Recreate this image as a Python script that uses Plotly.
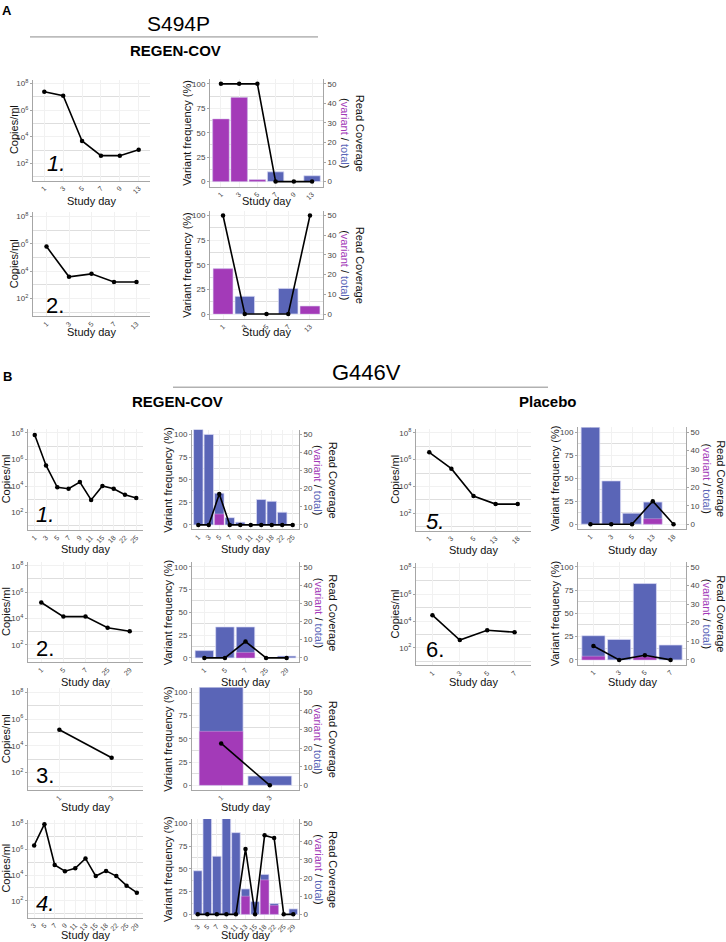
import plotly.graph_objects as go

W, H = 726, 942
PURPLE = "#A33AB8"
BLUE = "#5A65B7"
FONT = "Liberation Sans, Arial, sans-serif"

# ---------------- data ----------------
# S494P, REGEN-COV, patient 1
A1_days = ["1", "3", "5", "7", "9", "13"]
A1_copies = [2.4e7, 1.2e7, 4.8e3, 3.8e2, 3.8e2, 1.07e3]
A1_freq = [100, 100, 100, 0, 0, 0]
A1_total = [32, 43, 1, 5, 0, 3]
A1_variant = [32, 43, 1, 0, 0, 0]

# S494P, REGEN-COV, patient 2
A2_days = ["1", "3", "5", "7", "13"]
A2_copies = [6.3e5, 3.8e3, 6.3e3, 1.6e3, 1.6e3]
A2_freq = [100, 0, 0, 0, 100]
A2_total = [23, 9, 0, 13, 4]
A2_variant = [23, 0, 0, 0, 4]

# G446V, REGEN-COV, patient 1
B1_days = ["1", "3", "5", "7", "9", "11", "15", "18", "22", "25"]
B1_copies = [6.8e7, 3.5e5, 7.9e3, 6.3e3, 2.0e4, 8.9e2, 1.0e4, 6.3e3, 2.2e3, 1.26e3]
B1_freq = [0, 0, 34, 0, 0, 0, 0, 0, 0, 0]
B1_total = [55, 50, 17.5, 4, 1.5, 0, 14, 13, 7, 0]
B1_variant = [0, 0, 6, 0, 0, 0, 0, 0, 0, 0]

# G446V, REGEN-COV, patient 2
B2_days = ["1", "5", "7", "25", "29"]
B2_copies = [1.66e5, 1.4e4, 1.4e4, 2.0e3, 1.1e3]
B2_freq = [0, 0, 18, 0, 0]
B2_total = [4, 17, 17, 0, 1]
B2_variant = [0, 0, 3, 0, 0]

# G446V, REGEN-COV, patient 3
B3_days = ["1", "3"]
B3_copies = [1.6e5, 1.3e3]
B3_freq = [45, 0]
B3_total = [64, 5]
B3_variant = [29, 0]

# G446V, REGEN-COV, patient 4
B4_days = ["3", "5", "7", "9", "11", "13", "15", "18", "22", "25", "29"]
B4_copies = [2.0e6, 8.9e7, 6.0e4, 2.0e4, 3.3e4, 1.95e5, 8.3e3, 2.1e4, 8.3e3, 1.5e3, 4.3e2]
B4_freq = [0, 0, 0, 0, 0, 72, 0, 87, 84, 0, 0]
B4_total = [24, 60, 32, 60, 45, 14, 7, 22, 6, 0, 3]
B4_variant = [0, 0, 0, 0, 0, 10, 0, 19, 5, 0, 0]

# G446V, Placebo, patient 5
P5_days = ["1", "3", "5", "13", "18"]
P5_copies = [3.5e6, 2.1e5, 1.9e3, 4.8e2, 4.8e2]
P5_freq = [0, 0, 0, 25, 0]
P5_total = [60, 23.5, 6, 12, 0]
P5_variant = [0, 0, 0, 3, 0]

# G446V, Placebo, patient 6
P6_days = ["1", "3", "5", "7"]
P6_copies = [2.8e4, 3.9e2, 2.1e3, 1.5e3]
P6_freq = [15, 0, 5, 0]
P6_total = [13, 11, 41, 8]
P6_variant = [2, 0, 1.7, 0]

copy_tickvals = [1e2, 1e4, 1e6, 1e8]
copy_ticktext = ["10<sup>2</sup>", "10<sup>4</sup>", "10<sup>6</sup>", "10<sup>8</sup>"]
freq_ticks = [0, 25, 50, 75, 100]
read_ticks = [0, 10, 20, 30, 40, 50]

# ---------------- layout table (pixel positions) ----------------
panels = [
    dict(days=A1_days, copies=A1_copies, freq=A1_freq, total=A1_total, variant=A1_variant,
         cx=(33, 150), cy=(81.7, 161.7), bx=(210, 323), by=(82, 180), ty=199,
         label="1.", lab=(56, 162), ital=True, ytc=14, ytb=187, ytr=353),
    dict(days=A2_days, copies=A2_copies, freq=A2_freq, total=A2_total, variant=A2_variant,
         cx=(33, 150), cy=(215, 297), bx=(210, 323), by=(214, 312.7), ty=331,
         label="2.", lab=(55, 304), ital=False, ytc=14, ytb=187, ytr=353),
    dict(days=B1_days, copies=B1_copies, freq=B1_freq, total=B1_total, variant=B1_variant,
         cx=(28, 143), cy=(431.7, 511.7), bx=(192, 299), by=(433.3, 524), ty=548,
         label="1.", lab=(45, 514), ital=True, ytc=6, ytb=168, ytr=326),
    dict(days=B2_days, copies=B2_copies, freq=B2_freq, total=B2_total, variant=B2_variant,
         cx=(28, 143), cy=(565, 644.3), bx=(192, 299), by=(566, 657.3), ty=681,
         label="2.", lab=(45, 648), ital=False, ytc=6, ytb=168, ytr=326),
    dict(days=B3_days, copies=B3_copies, freq=B3_freq, total=B3_total, variant=B3_variant,
         cx=(28, 143), cy=(691.7, 772.3), bx=(192, 299), by=(691.7, 785), ty=807,
         label="3.", lab=(45, 775), ital=False, ytc=6, ytb=168, ytr=326),
    dict(days=B4_days, copies=B4_copies, freq=B4_freq, total=B4_total, variant=B4_variant,
         cx=(28, 143), cy=(823.3, 900.7), bx=(192, 299), by=(823.3, 914.3), ty=935,
         label="4.", lab=(45, 903), ital=True, ytc=6, ytb=168, ytr=326),
    dict(days=P5_days, copies=P5_copies, freq=P5_freq, total=P5_total, variant=P5_variant,
         cx=(416, 531), cy=(431.7, 512.3), bx=(578, 686), by=(431, 523.3), ty=549,
         label="5.", lab=(435, 521), ital=True, ytc=395, ytb=555, ytr=714),
    dict(days=P6_days, copies=P6_copies, freq=P6_freq, total=P6_total, variant=P6_variant,
         cx=(416, 531), cy=(566.7, 647.3), bx=(578, 686), by=(566, 659.3), ty=681,
         label="6.", lab=(435, 649), ital=False, ytc=395, ytb=555, ytr=714),
]


def px_x(x):
    return x / W


def px_y(y):
    return 1 - y / H


def nm(kind, n):
    return kind if n == 1 else f"{kind}{n}"


def lk(kind, n):
    return f"{kind}axis" if n == 1 else f"{kind}axis{n}"


AXC = "#a6a6a6"
GRID_MAJ = "#f1f1f1"
GRID_MIN = "#dedede"
TICKF = dict(family=FONT, size=8, color="#444444")
XTICKF = dict(family=FONT, size=7, color="#444444")

fig = go.Figure()
layout = {}
annotations = []

for i, p in enumerate(panels):
    n = len(p["days"])
    xc, xb = 2 * i + 1, 2 * i + 2
    yc, yr, yf = 3 * i + 1, 3 * i + 2, 3 * i + 3

    # copies panel box
    y8, y2 = p["cy"]
    d = (y2 - y8) / 6
    ctop, cbot = y8 - 0.3 * d, y2 + 1.3 * d
    # bar panel box
    y100, y0 = p["by"]
    u = (y0 - y100) / 100
    btop, bbot = y100 - 5 * u, y0 + 5 * u

    xcommon = dict(type="category", range=[-0.6, n - 0.4], tickangle=-45, tickfont=XTICKF,
                   showgrid=True, gridcolor=GRID_MAJ, showline=True, linecolor=AXC,
                   ticks="", zeroline=False, fixedrange=True)

    layout[lk("x", xc)] = dict(xcommon, domain=[px_x(p["cx"][0]), px_x(p["cx"][1])], anchor=nm("y", yc))
    layout[lk("y", yc)] = dict(type="log", range=[0.7, 8.3], domain=[px_y(cbot), px_y(ctop)],
                               anchor=nm("x", xc), tickvals=copy_tickvals, ticktext=copy_ticktext,
                               tickfont=TICKF, showgrid=True, gridcolor=GRID_MAJ,
                               minor=dict(tickvals=[1e1, 1e3, 1e5, 1e7], showgrid=True,
                                          gridcolor=GRID_MIN, ticks=""),
                               showline=True, linecolor=AXC, ticks="outside", ticklen=2,
                               tickcolor=AXC, zeroline=False, fixedrange=True)

    layout[lk("x", xb)] = dict(xcommon, domain=[px_x(p["bx"][0]), px_x(p["bx"][1])], anchor=nm("y", yr))
    layout[lk("y", yr)] = dict(range=[-2.5, 52.5], domain=[px_y(bbot), px_y(btop)], anchor=nm("x", xb),
                               side="right", tickvals=read_ticks, tickfont=TICKF, showgrid=False,
                               showline=True, linecolor=AXC, ticks="outside", ticklen=2,
                               tickcolor=AXC, zeroline=False, fixedrange=True)
    layout[lk("y", yf)] = dict(range=[-5, 105], overlaying=nm("y", yr), anchor=nm("x", xb), side="left",
                               tickvals=freq_ticks, tickfont=TICKF, showgrid=True, gridcolor=GRID_MAJ,
                               minor=dict(tickvals=[12.5, 37.5, 62.5, 87.5], showgrid=True,
                                          gridcolor=GRID_MIN, ticks=""),
                               showline=True, linecolor=AXC, ticks="outside", ticklen=2,
                               tickcolor=AXC, zeroline=False, fixedrange=True)

    # traces
    fig.add_trace(go.Scatter(x=p["days"], y=p["copies"], mode="lines+markers",
                             line=dict(color="black", width=1.6), marker=dict(color="black", size=4.5),
                             xaxis=nm("x", xc), yaxis=nm("y", yc), showlegend=False))
    tot = [v if v else None for v in p["total"]]
    var = [v if v else None for v in p["variant"]]
    fig.add_trace(go.Bar(x=p["days"], y=tot, width=0.9, marker=dict(color=BLUE,
                         line=dict(color="rgba(220,220,245,0.9)", width=0.8)),
                         xaxis=nm("x", xb), yaxis=nm("y", yr), showlegend=False))
    fig.add_trace(go.Bar(x=p["days"], y=var, width=0.9, marker=dict(color=PURPLE,
                         line=dict(color="rgba(235,210,240,0.6)", width=0.6)),
                         xaxis=nm("x", xb), yaxis=nm("y", yr), showlegend=False))
    fig.add_trace(go.Scatter(x=p["days"], y=p["freq"], mode="lines+markers",
                             line=dict(color="black", width=1.6), marker=dict(color="black", size=4.5),
                             xaxis=nm("x", xb), yaxis=nm("y", yf), showlegend=False, cliponaxis=False))

    # text
    tf = dict(family=FONT, size=11, color="#111111")
    cmid = (ctop + cbot) / 2
    bmid = (btop + bbot) / 2
    annotations += [
        dict(text="Study day", x=px_x(sum(p["cx"]) / 2), y=px_y(p["ty"]), font=tf),
        dict(text="Study day", x=px_x(sum(p["bx"]) / 2), y=px_y(p["ty"]), font=tf),
        dict(text="Copies/ml", x=px_x(p["ytc"]), y=px_y(cmid), textangle=-90, font=tf),
        dict(text="Variant frequency (%)", x=px_x(p["ytb"]), y=px_y(bmid), textangle=-90, font=tf),
        dict(text=("Read Coverage<br>(<span style='color:%s'>variant</span> / "
                   "<span style='color:%s'>total</span>)") % (PURPLE, BLUE),
             x=px_x(p["ytr"]), y=px_y(bmid), textangle=90, font=tf),
        dict(text=("<i>%s</i>" % p["label"]) if p["ital"] else p["label"],
             x=px_x(p["lab"][0]), y=px_y(p["lab"][1]),
             font=dict(family=FONT, size=22, color="black")),
    ]

# headers
annotations += [
    dict(text="<b>A</b>", x=px_x(7), y=px_y(9), font=dict(family=FONT, size=13, color="black")),
    dict(text="<b>B</b>", x=px_x(7), y=px_y(375), font=dict(family=FONT, size=13, color="black")),
    dict(text="S494P", x=px_x(178), y=px_y(22), font=dict(family=FONT, size=21, color="black")),
    dict(text="<b>REGEN-COV</b>", x=px_x(175), y=px_y(49), font=dict(family=FONT, size=15, color="black")),
    dict(text="G446V", x=px_x(367), y=px_y(371), font=dict(family=FONT, size=22, color="black")),
    dict(text="<b>REGEN-COV</b>", x=px_x(177), y=px_y(400), font=dict(family=FONT, size=15, color="black")),
    dict(text="<b>Placebo</b>", x=px_x(548), y=px_y(400), font=dict(family=FONT, size=15, color="black")),
]
for a in annotations:
    a.update(xref="paper", yref="paper", showarrow=False, xanchor="center", yanchor="middle")

shapes = [
    dict(type="line", xref="paper", yref="paper", x0=px_x(30), x1=px_x(318), y0=px_y(35), y1=px_y(35),
         line=dict(color="#8c8c8c", width=1)),
    dict(type="line", xref="paper", yref="paper", x0=px_x(173), x1=px_x(548), y0=px_y(386), y1=px_y(386),
         line=dict(color="#8c8c8c", width=1)),
]

fig.update_layout(width=W, height=H, margin=dict(l=0, r=0, t=0, b=0), paper_bgcolor="white",
                  plot_bgcolor="white", barmode="overlay", bargap=0.1, annotations=annotations,
                  shapes=shapes, font=dict(family=FONT), hovermode=False, **layout)

fig.write_html("out.html", config={"displayModeBar": False, "staticPlot": True},
               post_script="document.body.style.margin='0';document.body.style.overflow='hidden';")
